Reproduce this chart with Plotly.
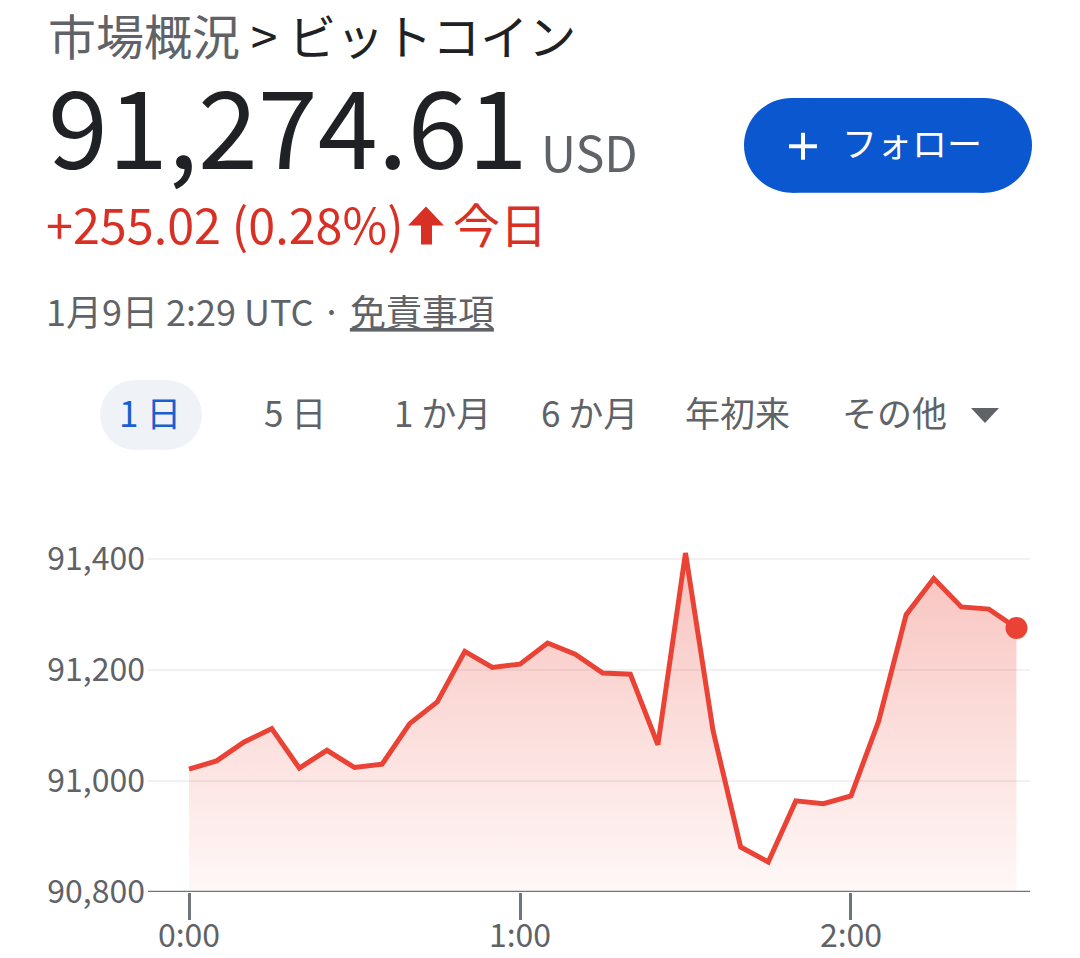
import plotly.graph_objects as go

# ---------------- data ----------------
times = [
    "2025-01-09 00:00", "2025-01-09 00:05", "2025-01-09 00:10", "2025-01-09 00:15",
    "2025-01-09 00:20", "2025-01-09 00:25", "2025-01-09 00:30", "2025-01-09 00:35",
    "2025-01-09 00:40", "2025-01-09 00:45", "2025-01-09 00:50", "2025-01-09 00:55",
    "2025-01-09 01:00", "2025-01-09 01:05", "2025-01-09 01:10", "2025-01-09 01:15",
    "2025-01-09 01:20", "2025-01-09 01:25", "2025-01-09 01:30", "2025-01-09 01:35",
    "2025-01-09 01:40", "2025-01-09 01:45", "2025-01-09 01:50", "2025-01-09 01:55",
    "2025-01-09 02:00", "2025-01-09 02:05", "2025-01-09 02:10", "2025-01-09 02:15",
    "2025-01-09 02:20", "2025-01-09 02:25", "2025-01-09 02:30",
]
prices = [
    91021, 91036, 91070, 91094, 91023, 91055, 91024, 91030,
    91103, 91142, 91233, 91204, 91210, 91248, 91228, 91194,
    91192, 91065, 91410, 91090, 90881, 90854, 90964, 90959,
    90973, 91107, 91299, 91364, 91313, 91309, 91275,
]
x_tickvals = ["2025-01-09 00:00", "2025-01-09 01:00", "2025-01-09 02:00"]
x_ticktext = ["0:00", "1:00", "2:00"]
y_tickvals = [90800, 91000, 91200, 91400]
y_ticktext = ["90,800", "91,000", "91,200", "91,400"]
range_labels = ["1 日", "5 日", "1 か月", "6 か月", "年初来", "その他"]

# ---------------- styling ----------------
W, H = 1064, 962
OFF = 8          # page body margin
SY = 0.979       # vertical scale of the captured picture
FONT = "Noto Sans CJK JP"
LINE = "#ea4335"
RED_TXT = "#d93025"
DARK = "#202124"
GRAY = "#5f6368"
AXIS = "#70757a"


def fx(x):       # picture pixel -> figure pixel
    return x - OFF


def fy(y):
    return y / SY - OFF


def px(x):
    return fx(x) / W


def py(y):
    return 1 - fy(y) / H


fig = go.Figure()
fig.add_trace(go.Scatter(
    x=times, y=prices, mode="lines",
    line=dict(color=LINE, width=5),
    fill="tozeroy",
    fillgradient=dict(type="vertical",
                      colorscale=[[0, "rgba(234,67,53,0.03)"], [1, "rgba(234,67,53,0.33)"]],
                      start=90800, stop=91420),
    hoverinfo="skip", showlegend=False,
))
fig.add_trace(go.Scatter(
    x=[times[-1]], y=[prices[-1]], mode="markers",
    marker=dict(color=LINE, size=22),
    hoverinfo="skip", showlegend=False,
))

shapes = []
# bottom axis line
shapes.append(dict(type="line", xref="paper", yref="y", x0=px(148), x1=px(1030),
                   y0=90800, y1=90800, line=dict(color=AXIS, width=2.5), layer="above"))


def pill(x0, x1, y0, y1, color):
    r = (y1 - y0) / 2
    return [dict(type="rect", xref="paper", yref="paper", x0=px(x0 + r), x1=px(x1 - r),
                 y0=py(y1), y1=py(y0), fillcolor=color, line=dict(width=0), layer="below"),
            dict(type="circle", xref="paper", yref="paper", x0=px(x0), x1=px(x0 + 2 * r),
                 y0=py(y1), y1=py(y0), fillcolor=color, line=dict(width=0), layer="below"),
            dict(type="circle", xref="paper", yref="paper", x0=px(x1 - 2 * r), x1=px(x1),
                 y0=py(y1), y1=py(y0), fillcolor=color, line=dict(width=0), layer="below")]


shapes += pill(744, 1032, 95, 190, "#0b57d0")
shapes += pill(100, 202, 378, 448, "#eff3f8")


def poly(points, color):
    d = "M " + " L ".join(f"{px(a):.5f},{py(b):.5f}" for a, b in points) + " Z"
    return dict(type="path", xref="paper", yref="paper", path=d,
                fillcolor=color, line=dict(width=0))


def seg(x0, y0, x1, y1, color, width):
    return dict(type="line", xref="paper", yref="paper", x0=px(x0), x1=px(x1),
                y0=py(y0), y1=py(y1), line=dict(color=color, width=width))


# red up arrow
shapes.append(poly([(426, 204), (444, 223), (432, 223), (432, 242), (421, 242),
                    (421, 223), (408, 223)], RED_TXT))
# dropdown triangle
shapes.append(poly([(971, 406), (999, 406), (985, 421)], GRAY))
# plus sign on the follow button
shapes.append(seg(789, 143.5, 817, 143.5, "#ffffff", 4))
shapes.append(seg(803, 130, 803, 157, "#ffffff", 4))

annotations = []


def ann(text, x, y, size, color, xanchor="left", yanchor="middle"):
    # x, y: figure pixels of the text box anchor
    annotations.append(dict(text=text, x=x / W, y=1 - y / H, xref="paper", yref="paper",
                            xanchor=xanchor, yanchor=yanchor, showarrow=False,
                            font=dict(family=FONT, size=size, color=color)))


ann(f"<span style='color:{GRAY}'>市場概況</span> > ビットコイン", 38, 24, 48, DARK)
ann("91,274.61", 38, 113.5, 108, DARK)
ann("USD", 531, 143, 48.5, GRAY)
ann("+255.02 (0.28%)", 36, 217, 48.5, RED_TXT)
ann("今日", 443, 217, 47, RED_TXT)
ann("1月9日 2:29 UTC · <u>免責事項</u>", 36, 306, 36, GRAY)
ann("フォロー", 903.5, 134, 35, "#ffffff", xanchor="center")

range_x = [142, 287, 434.5, 581.5, 729.5, 886]
for i, (lab, cx) in enumerate(zip(range_labels, range_x)):
    ann(lab, cx, 410, 35, "#1a5fcf" if i == 0 else GRAY, xanchor="center")

fig.update_layout(
    width=W, height=H,
    margin=dict(l=0, r=0, t=0, b=0),
    paper_bgcolor="white", plot_bgcolor="white",
    font=dict(family=FONT, color=GRAY),
    shapes=shapes, annotations=annotations,
    hovermode=False,
    xaxis=dict(
        domain=[px(148), px(1030)],
        type="date",
        range=["2025-01-08 23:52:34", "2025-01-09 02:32:27"],
        tickvals=x_tickvals, ticktext=x_ticktext,
        ticks="outside", ticklen=27, tickwidth=3, tickcolor=AXIS,
        showgrid=False, showline=False, zeroline=False,
        tickfont=dict(family=FONT, size=32, color=GRAY),
        ticklabelstandoff=-11,
        fixedrange=True,
    ),
    yaxis=dict(
        domain=[py(891.5), py(534.7)],
        range=[90800, 91440],
        tickvals=y_tickvals, ticktext=y_ticktext,
        ticks="", showline=False, zeroline=False,
        showgrid=True, gridcolor="#f1f1f1", gridwidth=2,
        tickfont=dict(family=FONT, size=32, color=GRAY),
        ticklabelstandoff=2,
        fixedrange=True,
    ),
)

fig.write_html("out.html", config={"displayModeBar": False})
